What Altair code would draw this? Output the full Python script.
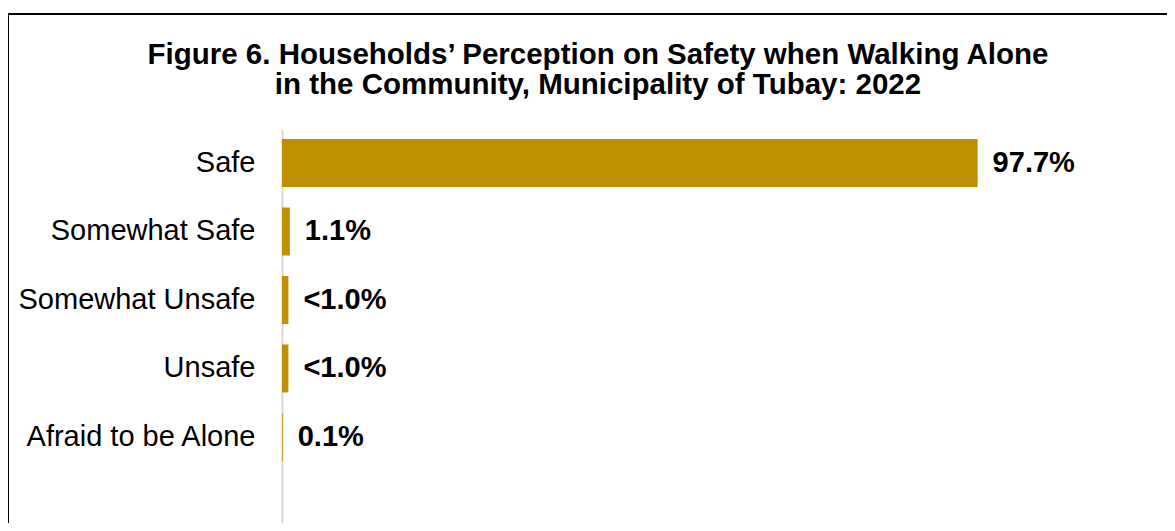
import altair as alt
import pandas as pd

categories = ["Safe", "Somewhat Safe", "Somewhat Unsafe", "Unsafe", "Afraid to be Alone"]
values = [97.7, 1.1, 0.9, 0.9, 0.1]
labels = ["97.7%", "1.1%", "<1.0%", "<1.0%", "0.1%"]

df = pd.DataFrame({"cat": categories, "val": values, "lab": labels})

FONT = "Liberation Sans"
W, H = 712, 394

y_enc = alt.Y(
    "cat:N",
    sort=categories,
    scale=alt.Scale(paddingInner=0.3, paddingOuter=0.526, align=0.139),
    axis=alt.Axis(
        title=None, ticks=False, labelPadding=27, labelFontSize=29,
        labelFont=FONT, labelColor="black", labelLimit=400,
        domainColor="#d9d9d9", domainWidth=2, grid=False,
    ),
)
x_enc = alt.X("val:Q", scale=alt.Scale(domain=[0, 100]), axis=None)

bars = alt.Chart(df).mark_bar(color="#BF9000").encode(x=x_enc, y=y_enc)
text = alt.Chart(df).mark_text(
    align="left", baseline="middle", dx=15, fontSize=29, fontWeight="bold",
    font=FONT, color="black",
).encode(x=x_enc, y=y_enc, text="lab:N")

frame = alt.Chart(df).mark_rect(
    filled=False, stroke="black", strokeWidth=2
).encode(
    x=alt.value(-274), x2=alt.value(3000), y=alt.value(-115), y2=alt.value(3000)
).transform_filter(alt.datum.cat == "Safe")

chart = alt.layer(frame, bars, text).properties(
    width=W, height=H,
    title=alt.TitleParams(
        ["Figure 6. Households’ Perception on Safety when Walking Alone",
         "in the Community, Municipality of Tubay: 2022"],
        font=FONT, fontSize=29.5, fontWeight="bold", color="black",
        anchor="middle", frame="group", dx=-40, offset=0, dy=110,
        baseline="alphabetic", lineHeight=30,
    ),
    autosize=alt.AutoSizeParams(type="none"),
    padding={"left": 274, "top": 121, "right": 1159 - 274 - W, "bottom": 0},
).configure(background="white").configure_view(stroke=None)

chart.save("out.html", embed_options={"renderer": "svg", "actions": False})
